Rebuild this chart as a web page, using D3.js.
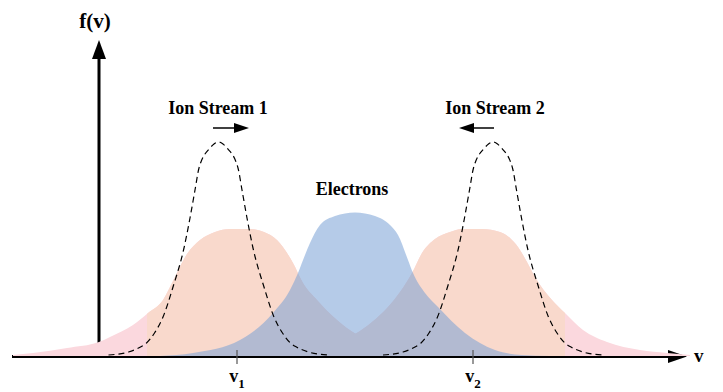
<!DOCTYPE html>
<html>
<head>
<meta charset="utf-8">
<script src="https://cdn.jsdelivr.net/npm/d3@7"></script>
<style>
  body { margin: 0; background: #fff; }
  text { font-family: "Liberation Serif", "Times New Roman", serif; font-weight: bold; fill: #000; }
</style>
</head>
<body>
<script>
// values: [v, f(v)]
var ionStream1 = [[-8.6,0.1],[-6.6,0.3],[-3.2,0.8],[0,1.4],[1.1,1.9],[3.4,3.1],[4.9,4.3],[6.4,5.6],[7.4,7.5],[8.8,10.2],[10.1,11.6],[11.6,12.4],[13.1,12.7],[15.1,12.7],[16.5,12.4],[17.8,11.6],[19.4,9.3],[20.4,7.3],[21.8,5.6],[23.8,3.6],[25.7,2.2],[28.1,1.3],[31.1,0.6],[34.1,0.2],[36.6,0]];
var ionStream2 = [[15.1,0],[17.6,0.2],[20.6,0.6],[23.1,1.3],[25.6,2.2],[27.3,3.4],[28.9,4.9],[30.1,6.4],[31.3,8.3],[32.3,10.3],[33.6,11.7],[35.1,12.4],[36.3,12.7],[38.3,12.7],[40.1,12.4],[41.1,11.8],[41.9,10.9],[42.8,9.4],[43.6,7.9],[45.3,5.6],[46.6,4.3],[48.4,2.6],[50.8,1.4],[54.1,0.6],[56.8,0.3],[59.1,0.1]];
var electrons = [[6.1,0],[9.4,0.3],[14.1,1.6],[17.4,4.3],[19.1,6.6],[19.9,8.3],[20.6,10.1],[21.1,11.3],[22.1,13.1],[23.6,14.0],[24.6,14.25],[25.6,14.35],[26.6,14.25],[27.6,14.0],[29.1,13.1],[29.9,12.1],[30.9,9.6],[31.4,8.3],[32.6,6.3],[33.9,4.9],[36.6,2.3],[39.6,0.6],[42.3,0.1],[45.1,0]];
var beam1 = [[0.95,0.1],[2.95,0.4],[4.15,0.9],[4.75,1.3],[5.55,2.3],[6.4,3.9],[7.4,6.9],[8.5,10.8],[9.1,13.8],[9.6,16.6],[10.0,18.8],[11.1,20.8],[11.5,21.2],[11.95,21.4],[12.4,21.2],[12.8,20.8],[13.9,18.8],[14.3,16.6],[14.8,13.8],[15.4,10.8],[16.5,6.9],[17.5,3.9],[18.35,2.3],[19.15,1.3],[19.75,0.9],[20.95,0.4],[22.95,0.1]];
var beam2 = [[28.4,0.1],[30.4,0.4],[31.6,0.9],[32.2,1.3],[33.0,2.3],[33.85,3.9],[34.85,6.9],[35.95,10.8],[36.55,13.8],[37.05,16.6],[37.45,18.8],[38.55,20.8],[38.95,21.2],[39.4,21.4],[39.85,21.2],[40.25,20.8],[41.35,18.8],[41.75,16.6],[42.25,13.8],[42.85,10.8],[43.95,6.9],[44.95,3.9],[45.8,2.3],[46.6,1.3],[47.2,0.9],[48.4,0.4],[50.4,0.1]];
var tickValues = [13.8, 37.4];
var tickSubs = ["1", "2"];

var width = 723, height = 392;

var svg = d3.select("body")
    .append("svg")
    .attr("width", width)
    .attr("height", height);

var x = d3.scaleLinear().domain([0, 58.8]).range([99, 687]);
var y = d3.scaleLinear().domain([0, 31.6]).range([356, 40]);

var area = d3.area()
    .x(function(d){ return x(d[0]); })
    .y0(y(0))
    .y1(function(d){ return y(d[1]); })
    .curve(d3.curveMonotoneX);

var line = d3.line()
    .x(function(d){ return x(d[0]); })
    .y(function(d){ return y(d[1]); })
    .curve(d3.curveMonotoneX);

// axes
svg.append("line")
    .attr("x1", x(-8.7)).attr("x2", x(57.5))
    .attr("y1", y(0) + 0.5).attr("y2", y(0) + 0.5)
    .attr("stroke", "#000").attr("stroke-width", 3);
svg.append("path")
    .attr("d", "M" + x(58.8) + "," + (y(0) + 0.5) + "l-19,-6.5v13z")
    .attr("fill", "#000");

svg.append("line")
    .attr("x1", x(0)).attr("x2", x(0))
    .attr("y1", y(0) + 2).attr("y2", y(29.8))
    .attr("stroke", "#000").attr("stroke-width", 3);
svg.append("path")
    .attr("d", "M" + x(0) + "," + y(31.6) + "l-7,19h14z")
    .attr("fill", "#000");

// ion distributions, pink outside, peach inside the plotted window
svg.append("clipPath").attr("id", "win")
    .append("rect").attr("x", 147).attr("y", 0).attr("width", 418).attr("height", 357);

[ionStream1, ionStream2].forEach(function(s){
    svg.append("path").attr("d", area(s)).attr("fill", "#fbd8de");
});
var inner = svg.append("g").attr("clip-path", "url(#win)");
[ionStream1, ionStream2].forEach(function(s){
    inner.append("path").attr("d", area(s)).attr("fill", "#f9d9cc");
});
inner.append("path")
    .attr("d", area(electrons))
    .attr("fill", "rgb(120,160,213)")
    .attr("fill-opacity", 0.55);

// initial beams
[beam1, beam2].forEach(function(s){
    svg.append("path")
        .attr("d", line(s))
        .attr("fill", "none")
        .attr("stroke", "#000")
        .attr("stroke-width", 1.2)
        .attr("stroke-dasharray", "6,4");
});

// ticks
tickValues.forEach(function(t, i){
    svg.append("line")
        .attr("x1", x(t)).attr("x2", x(t))
        .attr("y1", y(0) - 6).attr("y2", y(0) + 8)
        .attr("stroke", "#555").attr("stroke-width", 1.2);
    var lab = svg.append("text")
        .attr("x", x(t)).attr("y", 382)
        .attr("text-anchor", "middle")
        .style("font-size", "18px");
    lab.append("tspan").text("v");
    lab.append("tspan").attr("dy", 6).style("font-size", "13px").text(tickSubs[i]);
});

// labels
svg.append("text").attr("x", x(-0.4)).attr("y", 28)
    .attr("text-anchor", "middle").style("font-size", "21px").text("f(v)");
svg.append("text").attr("x", x(59.5)).attr("y", 362)
    .style("font-size", "19px").text("v");

svg.append("text").attr("x", x(11.9)).attr("y", 114)
    .attr("text-anchor", "middle").style("font-size", "18px").text("Ion Stream 1");
svg.append("text").attr("x", x(39.6)).attr("y", 114)
    .attr("text-anchor", "middle").style("font-size", "18px").text("Ion Stream 2");
svg.append("text").attr("x", x(25.3)).attr("y", 195)
    .attr("text-anchor", "middle").style("font-size", "18px").text("Electrons");

// drift arrows
function arrow(x0, x1, yy){
    var dir = x1 > x0 ? 1 : -1;
    svg.append("line")
        .attr("x1", x0).attr("x2", x1 - dir * 10)
        .attr("y1", yy).attr("y2", yy)
        .attr("stroke", "#000").attr("stroke-width", 1.5);
    svg.append("path")
        .attr("d", "M" + x1 + "," + yy + "l" + (-dir * 15) + ",-5v10z")
        .attr("fill", "#000");
}
arrow(x(11.4), x(15.0), 128);
arrow(x(39.5), x(36.0), 128);
</script>
</body>
</html>
